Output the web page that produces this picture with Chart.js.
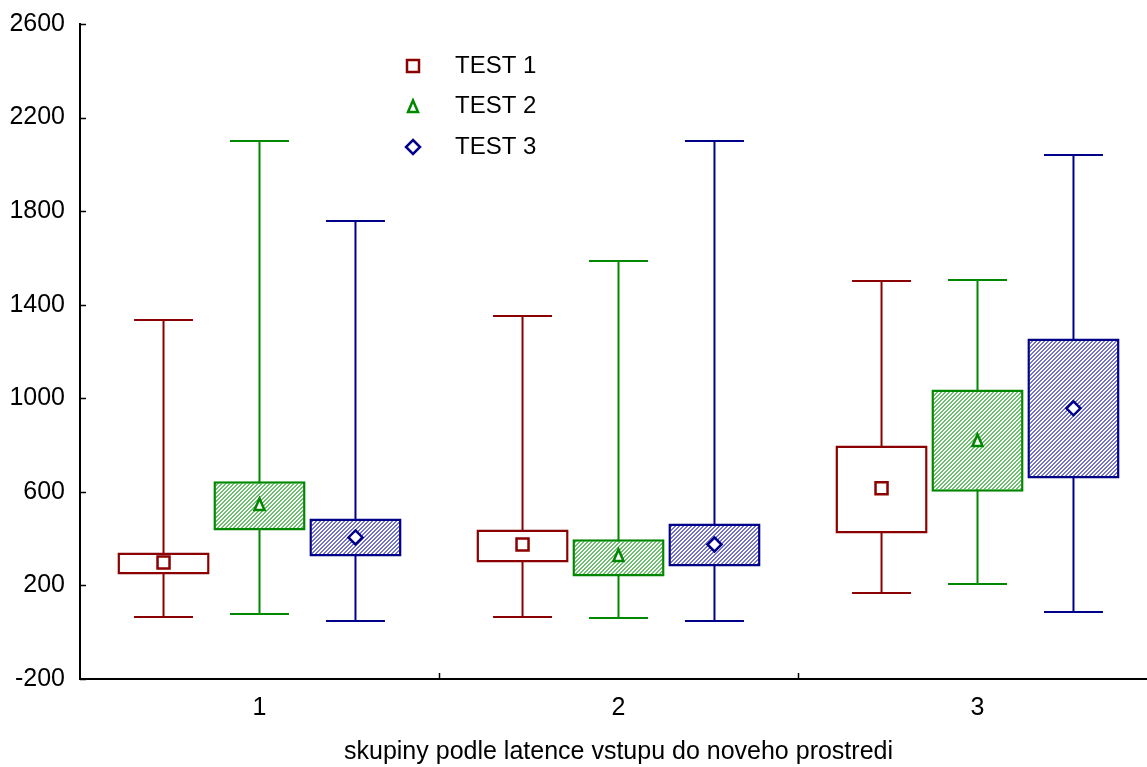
<!DOCTYPE html>
<html>
<head>
<meta charset="utf-8">
<script src="https://cdn.jsdelivr.net/npm/chart.js@4.4.0/dist/chart.umd.min.js"></script>
<style>
  html, body { margin: 0; padding: 0; background: #fff; overflow: hidden; }
  #wrap { position: absolute; left: 0; top: 0; width: 1160px; height: 767px; }
</style>
</head>
<body>
<div id="wrap"><canvas id="boxChart" width="1160" height="767"></canvas></div>
<script>
// ---------- Data ---------- //
const groups = ['1', '2', '3'];
const seriesNames = ['TEST 1', 'TEST 2', 'TEST 3'];

// per series: values for groups 1..3
const whiskerMin = [
  [67, 67, 166],
  [80, 59, 204],
  [50, 46, 85]
];
const boxLow = [
  [247, 298, 422],
  [435, 238, 600],
  [324, 281, 657]
];
const boxHigh = [
  [341, 439, 798],
  [645, 397, 1038],
  [486, 465, 1256]
];
const whiskerMax = [
  [1333, 1350, 1500],
  [2100, 1589, 1504],
  [1760, 2100, 2038]
];
const means = [
  [298, 375, 615],
  [546, 328, 820],
  [405, 375, 957]
];
const yTicks = [-200, 200, 600, 1000, 1400, 1800, 2200, 2600];

// ---------- Styles ---------- //
const lineColors = ['#8b0000', '#008800', '#00008b'];
const patternColors = [null, '#6cbf6c', '#7373cc'];
const markerStyles = ['rect', 'triangle', 'rectRot'];
const FONT = { family: '"Liberation Sans", Arial, sans-serif', size: 25 };

function makePattern(color) {
  if (!color) return '#ffffff';
  const tile = document.createElement('canvas');
  tile.width = 4; tile.height = 4;
  const t = tile.getContext('2d');
  t.fillStyle = '#ffffff';
  t.fillRect(0, 0, 4, 4);
  t.fillStyle = color;
  for (let y = 0; y < 4; y++) {
    for (let x = 0; x < 4; x++) {
      if ((x + y) % 4 < 2) t.fillRect(x, y, 1, 1);
    }
  }
  return document.getElementById('boxChart').getContext('2d').createPattern(tile, 'repeat');
}

// ---------- Datasets ---------- //
const datasets = [];
seriesNames.forEach((name, s) => {
  // whisker (thin floating bar behind box)
  datasets.push({
    label: name + ' whisker',
    role: 'whisker',
    series: s,
    stack: 's' + s,
    data: groups.map((g, i) => [whiskerMin[s][i], whiskerMax[s][i]]),
    backgroundColor: lineColors[s],
    borderWidth: 0,
    maxBarThickness: 2,
    order: 2
  });
  // box
  datasets.push({
    label: name,
    role: 'box',
    series: s,
    stack: 's' + s,
    data: groups.map((g, i) => [boxLow[s][i], boxHigh[s][i]]),
    backgroundColor: makePattern(patternColors[s]),
    borderColor: lineColors[s],
    borderWidth: 2.5,
    borderSkipped: false,
    order: 1
  });
});

// ---------- Plugin: caps, means, ticks, legend ---------- //
const boxExtras = {
  id: 'boxExtras',
  afterDatasetsDraw(chart) {
    const ctx = chart.ctx;
    const yScale = chart.scales.y;
    const xScale = chart.scales.x;
    const area = chart.chartArea;
    ctx.save();

    chart.data.datasets.forEach((ds, di) => {
      if (ds.role !== 'box') return;
      const meta = chart.getDatasetMeta(di);
      const s = ds.series;
      meta.data.forEach((bar, i) => {
        const cx = bar.x;
        const capHalf = bar.width * 0.32;
        ctx.strokeStyle = lineColors[s];
        ctx.lineWidth = 2;
        [whiskerMin[s][i], whiskerMax[s][i]].forEach(v => {
          const py = Math.round(yScale.getPixelForValue(v));
          ctx.beginPath();
          ctx.moveTo(cx - capHalf, py);
          ctx.lineTo(cx + capHalf, py);
          ctx.stroke();
        });
        drawMarker(ctx, markerStyles[s], cx, yScale.getPixelForValue(means[s][i]), lineColors[s]);
      });
    });

    // inward ticks
    ctx.strokeStyle = '#000';
    ctx.lineWidth = 1.5;
    yScale.ticks.forEach((t, i) => {
      const py = Math.round(yScale.getPixelForTick(i)) + 0.5;
      ctx.beginPath();
      ctx.moveTo(area.left, py);
      ctx.lineTo(area.left + 6, py);
      ctx.stroke();
    });
    for (let i = 0; i < groups.length - 1; i++) {
      const px = Math.round((xScale.getPixelForValue(i) + xScale.getPixelForValue(i + 1)) / 2) + 0.5;
      ctx.beginPath();
      ctx.moveTo(px, area.bottom);
      ctx.lineTo(px, area.bottom - 6);
      ctx.stroke();
    }

    // legend inside plot
    ctx.font = (FONT.size - 1) + 'px ' + FONT.family;
    ctx.textBaseline = 'middle';
    seriesNames.forEach((name, s) => {
      const ly = area.top + 42 + s * 40.5;
      drawMarker(ctx, markerStyles[s], area.left + 333, ly, lineColors[s]);
      ctx.fillStyle = '#000';
      ctx.fillText(name, area.left + 375, ly);
    });

    ctx.restore();
  }
};

function drawMarker(ctx, style, x, y, color) {
  ctx.save();
  ctx.strokeStyle = color;
  ctx.fillStyle = '#fff';
  ctx.lineWidth = 2.5;
  ctx.beginPath();
  if (style === 'rect') {
    ctx.rect(x - 6, y - 6, 12, 12);
  } else if (style === 'triangle') {
    ctx.moveTo(x, y - 6);
    ctx.lineTo(x + 5, y + 5.5);
    ctx.lineTo(x - 5, y + 5.5);
    ctx.closePath();
  } else {
    ctx.moveTo(x, y - 7);
    ctx.lineTo(x + 7, y);
    ctx.lineTo(x, y + 7);
    ctx.lineTo(x - 7, y);
    ctx.closePath();
  }
  ctx.fill();
  ctx.stroke();
  ctx.restore();
}

// ---------- Chart ---------- //
new Chart(document.getElementById('boxChart'), {
  type: 'bar',
  data: { labels: groups, datasets: datasets },
  plugins: [boxExtras],
  options: {
    responsive: false,
    animation: false,
    categoryPercentage: 0.802,
    barPercentage: 0.96,
    layout: { padding: { top: 24, right: 3, left: 0, bottom: 0 } },
    plugins: {
      legend: { display: false },
      tooltip: { enabled: false }
    },
    scales: {
      x: {
        grid: { display: false },
        border: { display: true, color: '#000', width: 2 },
        ticks: { color: '#000', font: FONT, padding: 6 },
        title: {
          display: true,
          text: 'skupiny podle latence vstupu do noveho prostredi',
          color: '#000',
          font: FONT,
          padding: { top: 28, bottom: 0 }
        },
        afterFit: (scale) => { scale.height = 88; }
      },
      y: {
        stacked: false,
        min: -200,
        max: 2600,
        afterBuildTicks: (scale) => { scale.ticks = yTicks.map(v => ({ value: v })); },
        grid: { display: false },
        border: { display: true, color: '#000', width: 2 },
        ticks: { color: '#000', font: FONT, padding: 7, callback: (v) => String(v) },
        afterFit: (scale) => { scale.width = 80; scale.paddingTop = 0; }
      }
    }
  }
});
</script>
</body>
</html>
